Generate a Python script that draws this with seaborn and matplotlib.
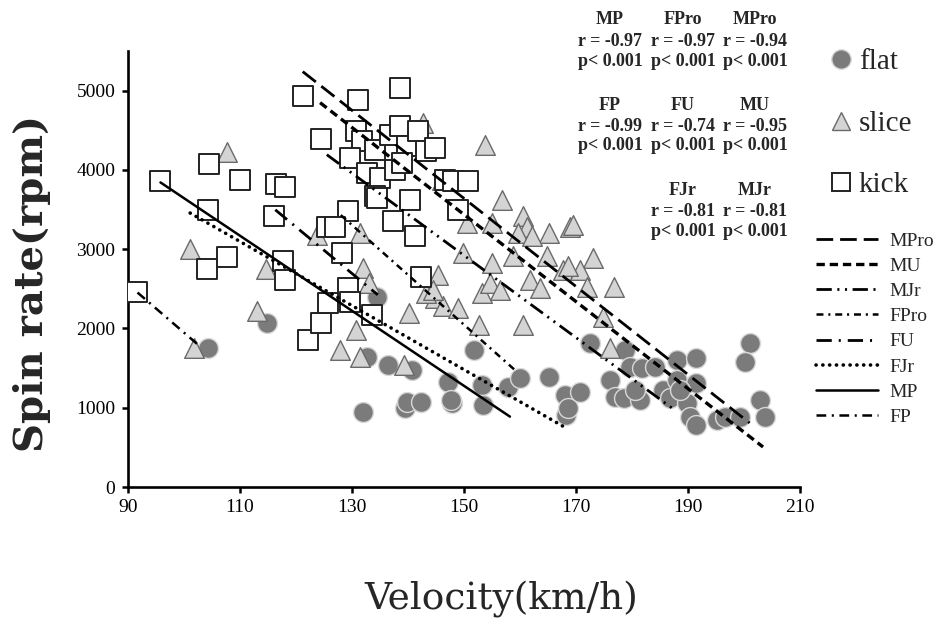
import matplotlib
matplotlib.use("Agg")
import matplotlib.pyplot as plt
import seaborn as sns
import pandas as pd
from matplotlib.lines import Line2D

# ---------------- data ----------------
flat_v = [104.2, 114.8, 132.0, 139.5, 139.8, 142.4, 136.5, 140.7, 132.6, 134.4,
          147.2, 147.8, 147.6, 151.7, 153.2, 153.4, 157.9, 160.0, 165.2, 168.0,
          168.3, 168.5, 170.7, 172.5, 176.1, 177.0, 178.8, 179.6, 181.7, 178.5,
          181.4, 180.5, 184.1, 185.6, 186.8, 188.0, 188.0, 191.5, 191.5, 189.8,
          190.4, 191.5, 188.6, 195.1, 196.6, 199.3, 201.1, 200.2, 202.9, 203.8]
flat_s = [1751, 2067, 951, 994, 1077, 1077, 1540, 1477, 1645, 2403,
          1330, 1056, 1100, 1730, 1288, 1035, 1266, 1372, 1393, 1162,
          909, 1000, 1203, 1814, 1351, 1140, 1730, 1519, 1498, 1120,
          1098, 1225, 1519, 1225, 1120, 1604, 1351, 1625, 1309, 1056,
          888, 783, 1225, 846, 888, 888, 1814, 1582, 1098, 888]

slice_v = [113.0, 101.8, 127.9, 107.7, 101.1, 114.6, 123.7, 131.5, 130.7, 140.1,
           139.3, 131.9, 133.1, 145.4, 144.8, 146.3, 149.0, 152.6, 153.2, 142.7,
           146.0, 131.4, 153.8, 156.7, 160.6, 161.2, 159.7, 155.0, 165.1, 168.9,
           164.8, 158.8, 155.0, 149.8, 150.5, 167.7, 154.6, 161.8, 169.5, 162.1,
           173.1, 170.7, 168.6, 156.4, 163.6, 171.9, 176.7, 174.9, 160.6, 176.1,
           143.3, 144.5]
slice_s = [2214, 1751, 1730, 4221, 3001, 2749, 3182, 1645, 1982, 2193,
           1540, 2761, 2572, 2677, 2383, 2277, 2256, 2045, 2446, 4592,
           3876, 3203, 4318, 3624, 3413, 3286, 3203, 3329, 3203, 3286,
           2908, 2908, 2824, 2951, 3329, 2740, 2572, 2614, 3308, 3160,
           2888, 2740, 2782, 2487, 2509, 2529, 2529, 2150, 2045, 1751,
           2446, 2487]

kick_v = [91.6, 95.8, 104.5, 110.0, 116.5, 118.1, 104.2, 116.1, 107.7, 104.1,
          121.2, 124.5, 117.6, 118.0, 122.2, 124.5, 125.8, 129.3, 129.6, 133.5,
          142.4, 131.0, 138.6, 130.8, 131.7, 134.1, 129.6, 132.6, 135.0, 136.8,
          138.6, 139.8, 141.8, 143.3, 144.8, 137.7, 138.9, 134.1, 140.4, 137.4,
          141.3, 129.3, 125.5, 127.0, 128.2, 146.6, 148.1, 150.8, 149.0, 134.4]
kick_s = [2466, 3864, 4075, 3872, 3822, 3784, 3497, 3413, 2900, 2749,
          4937, 4390, 2857, 2614, 1856, 2067, 2319, 2509, 2340, 2172,
          2655, 4886, 5034, 4486, 4360, 4255, 4150, 3960, 3898, 4444,
          4549, 4297, 4486, 4234, 4276, 4003, 4087, 3665, 3624, 3350,
          3160, 3476, 3286, 3286, 2950, 3876, 3855, 3855, 3497, 3643]

# regression lines (start / end)
line_names = ["MPro", "MU", "MJr", "FPro", "FU", "FJr", "MP", "FP"]
line_v0 = [121.2, 124.3, 125.5, 128.0, 116.3, 101.1, 95.8, 91.7]
line_s0 = [5240, 4848, 4192, 3430, 3497, 3456, 3842, 2453]
line_v1 = [201.0, 203.4, 187.6, 159.4, 134.6, 168.3, 158.2, 102.9]
line_s1 = [808, 505, 972, 1456, 2424, 741, 888, 1771]

# statistics annotation
stat_groups = ["MP", "FPro", "MPro", "FP", "FU", "MU", "FJr", "MJr"]
stat_r = ["-0.97", "-0.97", "-0.94", "-0.99", "-0.74", "-0.95", "-0.81", "-0.81"]
stat_p = ["0.001"] * 8

# ---------------- style ----------------
sns.set_style("ticks")
plt.rcParams["font.family"] = ["Liberation Serif", "DejaVu Serif"]
plt.rcParams["lines.scale_dashes"] = False

W, H = 945, 626
fig = plt.figure(figsize=(W / 100, H / 100), dpi=100)
ax = fig.add_axes([128 / W, 1 - 487 / H, (800 - 128) / W, (487 - 51) / H])

df_f = pd.DataFrame({"v": flat_v, "s": flat_s})
df_sl = pd.DataFrame({"v": slice_v, "s": slice_s})
df_k = pd.DataFrame({"v": kick_v, "s": kick_s})

sns.scatterplot(data=df_f, x="v", y="s", marker="o", s=205, color="#7b7b7b",
                edgecolor="#d8d8d8", linewidth=1.0, ax=ax, legend=False, zorder=2)
sns.scatterplot(data=df_sl, x="v", y="s", marker="^", s=200, color="#d4d4d4",
                edgecolor="#6a6a6a", linewidth=1.0, ax=ax, legend=False, zorder=3)
sns.scatterplot(data=df_k, x="v", y="s", marker="s", s=215, color="white",
                edgecolor="#222222", linewidth=1.4, ax=ax, legend=False, zorder=4)

styles = {
    "MPro": dict(lw=2.0, dashes=(12, 5)),
    "MU": dict(lw=2.4, dashes=(6, 3.5)),
    "MJr": dict(lw=2.0, dashes=(11, 4, 1.5, 4, 1.5, 4)),
    "FPro": dict(lw=1.8, dashes=(5, 3.5, 1.5, 3.5)),
    "FU": dict(lw=2.0, dashes=(11, 5, 1.5, 5)),
    "FJr": dict(lw=2.6, dashes=(0.1, 4.8), dash_capstyle="round"),
    "MP": dict(lw=1.8, linestyle="-"),
    "FP": dict(lw=1.8, dashes=(7, 4, 1.5, 4)),
}
handles2 = []
for name, v0, s0, v1, s1 in zip(line_names, line_v0, line_s0, line_v1, line_s1):
    st = styles[name]
    ax.plot([v0, v1], [s0, s1], color="black", zorder=5, **st)
    handles2.append(Line2D([0], [0], color="black", label=name, **st))

ax.set_xlim(90, 210)
ax.set_ylim(0, 5500)
ax.set_xticks(range(90, 211, 20))
ax.set_yticks(range(0, 5001, 1000))
ax.tick_params(axis="both", direction="out", length=4, width=1.8,
               labelsize=14, colors="black", pad=5)
for sp in ["top", "right"]:
    ax.spines[sp].set_visible(False)
for sp in ["left", "bottom"]:
    ax.spines[sp].set_linewidth(1.9)
    ax.spines[sp].set_color("black")
ax.set_xlabel("")
ax.set_ylabel("")

fig.text(501 / W, 1 - 600 / H, "Velocity(km/h)", ha="center", va="center",
         fontsize=27, family="DejaVu Serif")
fig.text(32 / W, 1 - 283 / H, "Spin rate(rpm)", ha="center", va="center",
         rotation=90, fontsize=29, fontweight="bold", family="DejaVu Serif")

# stats text
col_x = [610, 683, 755, 610, 683, 755, 683, 755]
row_y = [20, 20, 20, 105, 105, 105, 190, 190]
for g, r, p, x, y in zip(stat_groups, stat_r, stat_p, col_x, row_y):
    fig.text(x / W, 1 - y / H, g, ha="center", va="center", fontsize=13, fontweight="bold")
    fig.text(x / W, 1 - (y + 21) / H, "r = " + r, ha="center", va="center", fontsize=13, fontweight="bold")
    fig.text(x / W, 1 - (y + 41) / H, "p< " + p, ha="center", va="center", fontsize=13, fontweight="bold")

# legends
h1 = [
    Line2D([0], [0], marker="o", linestyle="none", markersize=14, markerfacecolor="#7b7b7b",
           markeredgecolor="#d8d8d8", label="flat"),
    Line2D([0], [0], marker="^", linestyle="none", markersize=13, markerfacecolor="#d4d4d4",
           markeredgecolor="#6a6a6a", label="slice"),
    Line2D([0], [0], marker="s", linestyle="none", markersize=13, markerfacecolor="white",
           markeredgecolor="#222222", markeredgewidth=1.4, label="kick"),
]
leg1 = fig.legend(handles=h1, loc="upper left", bbox_to_anchor=(828 / W, 1 - 49 / H),
                  frameon=False, fontsize=21, handlelength=0.9, handletextpad=0.15,
                  labelspacing=1.2, borderpad=0, borderaxespad=0)
leg2 = fig.legend(handles=handles2, loc="upper left", bbox_to_anchor=(816 / W, 1 - 232 / H),
                  frameon=False, fontsize=14, handlelength=3.2, handletextpad=0.6,
                  labelspacing=0.39, borderpad=0, borderaxespad=0)

fig.savefig("out.png", dpi=100)
